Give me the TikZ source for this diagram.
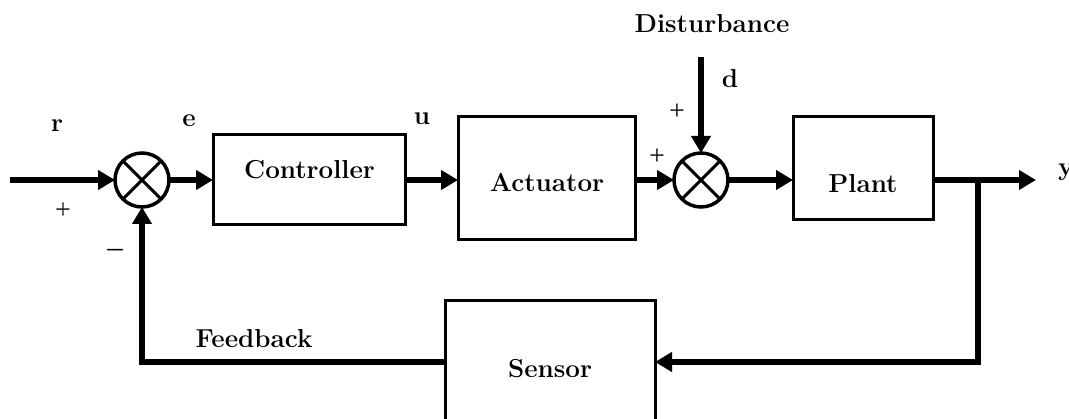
\documentclass[tikz,border=0pt]{standalone}
\usepackage{fontspec}
\newfontfamily\signfont[RawFeature={embolden=2.5}]{Latin Modern Roman}
\usetikzlibrary{arrows.meta}
\begin{document}
\begin{tikzpicture}[x=1pt,y=-1pt,
  blk/.style={draw, line width=3pt, inner sep=0pt, outer sep=0pt},
  sumj/.style={circle, draw, line width=3.5pt, minimum size=54pt, inner sep=0pt, outer sep=0pt,
    path picture={\draw[line width=3pt] (path picture bounding box.north west) -- (path picture bounding box.south east)
      (path picture bounding box.north east) -- (path picture bounding box.south west);}},
  tip/.style={-{Triangle[length=17pt,width=19pt]}},
  sig/.style={line width=5.5pt, tip},
  wire/.style={line width=5.5pt},
  lbl/.style={font=\fontsize{26}{30}\selectfont\bfseries, inner sep=0pt, anchor=base},
  sgn/.style={font=\fontsize{17}{20}\selectfont\signfont\bfseries, inner sep=0pt}
]
\clip (0,0) rectangle (1069,419);
\fill[white] (0,0) rectangle (1069,419);

% blocks
\node[sumj] (sum1) at (142,180) {};
\node[blk, minimum width=192pt, minimum height=90pt] (ctrl) at (309,180) {};
\node[blk, minimum width=177pt, minimum height=123pt] (act) at (546.5,178.5) {};
\node[sumj] (sum2) at (701,180) {};
\node[blk, minimum width=140pt, minimum height=103pt] (plant) at (863,168.5) {};
\node[blk, minimum width=210pt, minimum height=160pt] (sensor) at (550,381) {};

% block texts
\node[lbl] (tctrl) at (309.5,179) {Controller};
\node[lbl] (tact) at (547,192) {Actuator};
\node[lbl] (tplant) at (863,193) {Plant};
\node[lbl] (tsensor) at (550,378) {Sensor};

% coordinates
\coordinate (in) at (10,180);
\coordinate (yout) at (1036,180);
\coordinate (br) at (978,180);
\coordinate (sb) at (978,362);
\coordinate (fb) at (142,362);
\coordinate (din) at (701,57);

% connectors
\draw[sig] (in) -- (sum1.west);
\draw[sig] (sum1.east) -- (ctrl.west);
\draw[sig] (ctrl.east) -- (ctrl.east -| act.west);
\draw[sig] (act.east |- sum2.west) -- (sum2.west);
\draw[sig] (sum2.east) -- (sum2.east -| plant.west);
\draw[sig] (plant.east |- yout) -- (yout);
\draw[sig] (br) -- (sb) -- (sb -| sensor.east);
\draw[sig] (sensor.west |- fb) -- (fb) -- (sum1.south);
\draw[sig] (din) -- (sum2.north);

% labels
\node[lbl] (lr) at (57,132) {r};
\node[lbl] (le) at (189,127) {e};
\node[lbl] (lu) at (422,125) {u};
\node[lbl] (ld) at (730,88) {d};
\node[lbl] (ldist) at (712,33) {Disturbance};
\node[lbl, anchor=base west] (ly) at (1058,176) {y};
\node[lbl] (lfb) at (254,348) {Feedback};

% signs
\node[sgn] (p1) at (63,209) {+};
\node[sgn, font=\fontsize{21}{24}\selectfont\signfont\bfseries] (m1) at (115,252) {−};
\node[sgn] (p2) at (657,155) {+};
\node[sgn] (p3) at (677,110) {+};
\end{tikzpicture}
\end{document}
